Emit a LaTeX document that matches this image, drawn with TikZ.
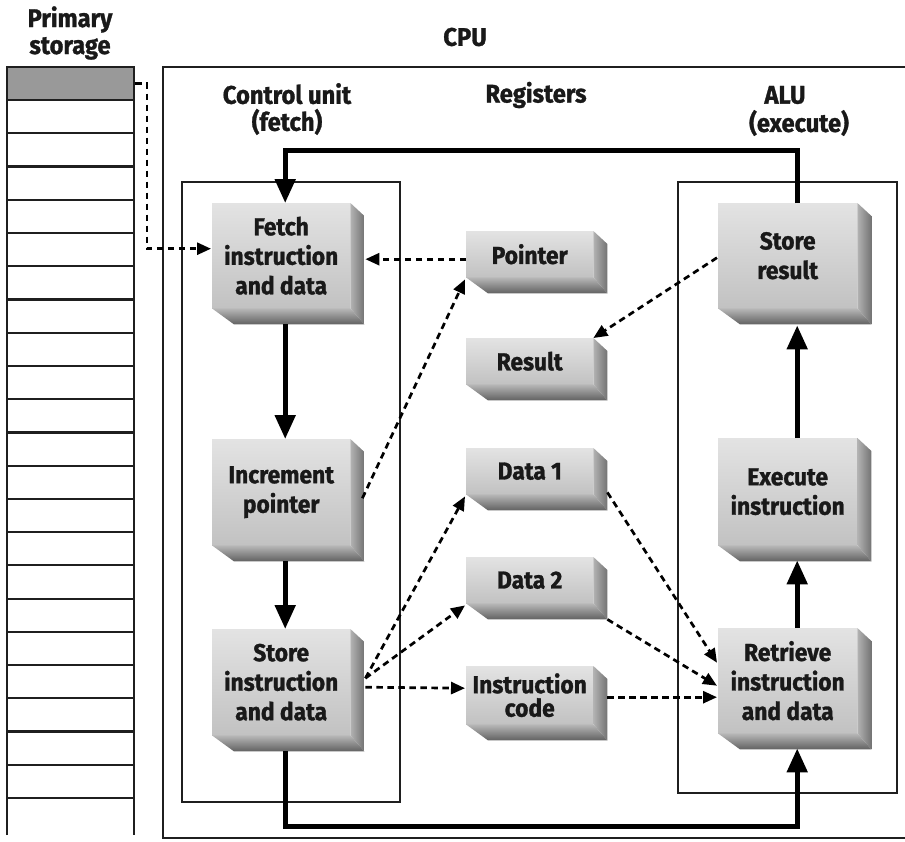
\documentclass[tikz,border=0pt]{standalone}
\usepackage{fontspec}
\setmainfont{Fira Sans}[FakeStretch=0.93, BoldFeatures={FakeBold=1.2}]
\usetikzlibrary{arrows.meta,calc}

% a bevelled 3-D block: name, x, y (top-left of front face), width, height, text
\newcommand\blockcube[6]{%
  \node[front, minimum width=#4pt, minimum height=#5pt] (#1) at (#2,#3) {#6};
  \path[sideface] (#1.north east) -- ++(14,13) -- ($(#1.south east)+(14,16)$) -- (#1.south east) -- cycle;
  \path[baseface] (#1.south west) -- (#1.south east) -- ($(#1.south east)+(14,16)$) -- ($(#1.south west)+(22,16)$) -- cycle;
}

\begin{document}
\begin{tikzpicture}[x=1pt,y=-1pt,
  frame/.style={draw=black!88, line width=2.2pt},
  front/.style={shade, top color=black!11, bottom color=black!24, draw=none, inner sep=0pt,
    anchor=north west, align=center, text=black!90,
    font=\bfseries\fontsize{24.5}{29.5}\selectfont},
  sideface/.style={shade, left color=black!30, right color=black!55},
  baseface/.style={shade, top color=black!28, bottom color=black!62},
  flow/.style={line width=5pt, -{Triangle[width=20pt,length=24pt]}},
  dflow/.style={line width=2.7pt, dash pattern=on 6.5pt off 4.5pt, -{Triangle[width=12pt,length=14pt]}},
  hdr/.style={align=center, text=black!90, font=\bfseries\fontsize{25.5}{27}\selectfont},
]
\path[use as bounding box] (0,0) rectangle (905,841);
\clip (0,0) rectangle (905,841);

% headings
\node[hdr] (pstore) at (70,33) {Primary\\storage};
\node[hdr] (cpu) at (465,37) {CPU};
\node[hdr] (cu) at (287,109) {Control unit\\(fetch)};
\node[hdr] (regs) at (536,95) {Registers};
\node[hdr] (alu) at (785,95) {ALU};
\node[hdr] (exe) at (799,123) {(execute)};

% primary storage column
\node[frame, fill=black!40, minimum width=127pt, minimum height=33pt, inner sep=0pt] (slot) at (70.5,83.5) {};
\foreach \k in {0,...,21} \draw[frame] (7,{100+33.24*\k}) -- (134,{100+33.24*\k});
\draw[frame] (7,835) -- (7,67) -- (134,67) -- (134,835);

% CPU and its two units
\draw[frame] (163,67) rectangle (930,838);
\draw[frame] (182,182) rectangle (400,802);
\draw[frame] (678,182) rectangle (897,793);

% control unit blocks
\blockcube{fetch}{212}{203}{138}{105}{Fetch\\instruction\\and data}
\blockcube{incr}{212}{439}{138}{106}{Increment\\pointer}
\blockcube{storei}{212}{629}{138}{106}{Store\\instruction\\and data}

% ALU blocks
\blockcube{storer}{718}{203}{139}{105}{Store\\result}
\blockcube{exec}{718}{438}{139}{107}{Execute\\instruction}
\blockcube{retr}{718}{628}{139}{105}{Retrieve\\instruction\\and data}

% registers
\blockcube{ptr}{466}{231}{127}{46}{Pointer}
\blockcube{res}{466}{338}{127}{46}{Result}
\blockcube{dta}{466}{448}{127}{46}{Data 1}
\blockcube{dtb}{466}{557}{127}{46}{Data 2}
\blockcube{icode}{466}{666}{127}{58}{Instruction\\[-6pt]code}

% data paths (dashed)
\draw[dflow] (slot.east) -- ++(12,0) |- ($(fetch.west)+(-1,-7)$);
\draw[dflow] ($(ptr.west)+(0,5)$) -- ($(fetch.east)+(15,3.5)$);
\draw[dflow] ($(incr.east)+(12,6)$) -- ($(ptr.south west)+(-1,2)$);
\draw[dflow] ($(storer.west)+(-1,2)$) -- (res.north east);
\draw[dflow] ($(storei.east)+(15,-4)$) -- ($(dta.south west)+(-1,2)$);
\draw[dflow] ($(storei.east)+(15,-4)$) -- ($(dtb.south west)+(-1,2)$);
\draw[dflow] ($(storei.east)+(15,5)$) -- ($(icode.west)+(-1,-7)$);
\draw[dflow] ($(dta.south east)+(14,-2)$) -- ($(retr.west)+(-1,-18)$);
\draw[dflow] ($(dtb.south east)+(14,16)$) -- ($(retr.west)+(-1,5)$);
\draw[dflow] ($(icode.east)+(14,2)$) -- ($(retr.west)+(-1,16.5)$);

% control flow (thick)
\draw[flow] ($(storer.north)+(9.5,0)$) -- ++(0,-53) -| ($(fetch.north)+(4,0)$);
\draw[flow] ($(fetch.south)+(4,16)$) -- ($(incr.north)+(4,0)$);
\draw[flow] ($(incr.south)+(4,16)$) -- ($(storei.north)+(4,0)$);
\draw[flow] ($(storei.south)+(4,16)$) -- ++(0,75) -| ($(retr.south)+(9.5,15)$);
\draw[flow] ($(retr.north)+(9.5,0)$) -- ($(exec.south)+(9.5,15)$);
\draw[flow] ($(exec.north)+(9.5,0)$) -- ($(storer.south)+(9.5,17)$);
\end{tikzpicture}
\end{document}
